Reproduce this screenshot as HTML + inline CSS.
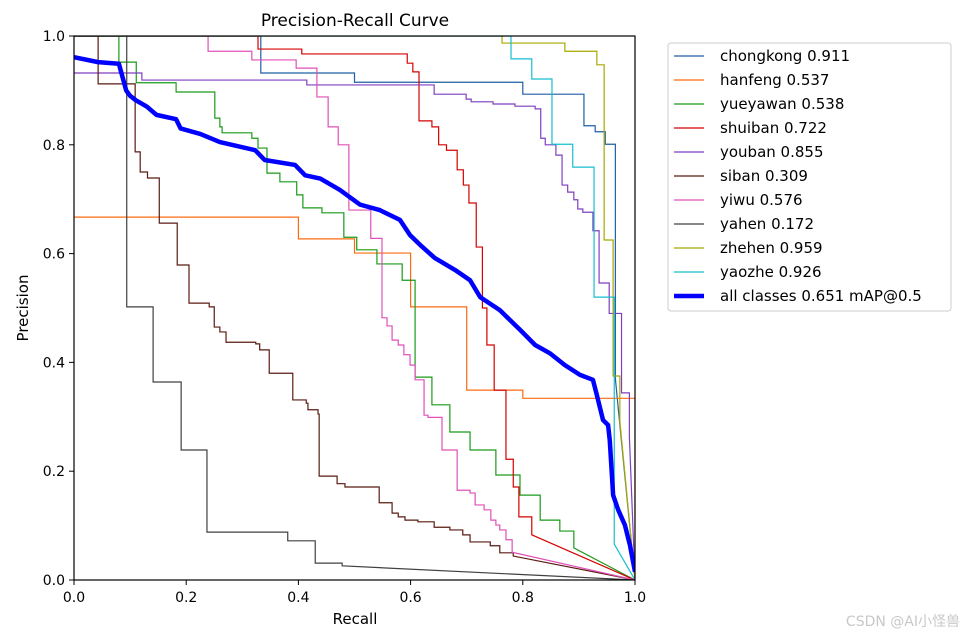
<!DOCTYPE html>
<html><head><meta charset="utf-8"><style>
body{margin:0;background:#fff;width:966px;height:639px;overflow:hidden;font-family:"Liberation Sans","DejaVu Sans",sans-serif}
svg text{font-family:"DejaVu Sans","Liberation Sans",sans-serif}
</style></head><body>
<svg id="chart" width="966" height="639" xmlns="http://www.w3.org/2000/svg">
<defs><clipPath id="pc"><rect x="74" y="36" width="561" height="544"/></clipPath></defs>
<g id="plot" clip-path="url(#pc)"></g>
<rect x="74" y="36" width="561" height="544" fill="none" stroke="#000" stroke-width="1.2"/>
<g id="axes"></g>
<text x="355" y="26" font-size="17" text-anchor="middle">Precision-Recall Curve</text>
<text x="355" y="624" font-size="15" text-anchor="middle">Recall</text>
<text x="28" y="308" font-size="15" text-anchor="middle" transform="rotate(-90 28 308)">Precision</text>
<g id="legend"><rect x="668" y="43" width="283" height="268" rx="3" fill="#fff" stroke="#ccc"/></g>
<text x="960" y="626" font-size="14" fill="#c8c8c8" text-anchor="end" font-family="Liberation Sans, Noto Sans CJK SC, sans-serif">CSDN @AI小怪兽</text>
</svg>
<script>
const xTicks=[0,0.2,0.4,0.6,0.8,1.0];
const yTicks=[0,0.2,0.4,0.6,0.8,1.0];
const names=["chongkong 0.911","hanfeng 0.537","yueyawan 0.538","shuiban 0.722","youban 0.855","siban 0.309","yiwu 0.576","yahen 0.172","zhehen 0.959","yaozhe 0.926","all classes 0.651 mAP@0.5"];
const colors=["#1f5fa4","#ff6a10","#1a9a1a","#d60000","#7f3fbf","#5a1a10","#e050b8","#404040","#a8a800","#17becf","#0000ff"];
const chongkongR=[0,0.333,0.5,0.8,0.909,0.929,0.947,0.965];
const chongkongP=[1,0.932,0.915,0.893,0.835,0.824,0.801,0.37];
const hanfengR=[0,0.4,0.5,0.6,0.7,0.8,1];
const hanfengP=[0.667,0.627,0.601,0.502,0.349,0.334,0];
const yueyawanR=[0,0.08,0.111,0.182,0.251,0.26,0.264,0.317,0.328,0.344,0.367,0.397,0.408,0.442,0.481,0.504,0.54,0.585,0.608,0.638,0.67,0.706,0.752,0.795,0.831,0.866,0.891];
const yueyawanP=[1,0.952,0.914,0.897,0.849,0.833,0.822,0.812,0.794,0.748,0.732,0.708,0.684,0.675,0.63,0.607,0.581,0.551,0.373,0.322,0.272,0.239,0.193,0.156,0.11,0.09,0.059];
const shuibanR=[0,0.328,0.406,0.594,0.604,0.615,0.638,0.65,0.664,0.683,0.694,0.704,0.717,0.728,0.736,0.749,0.77,0.783,0.793,0.816];
const shuibanP=[1,0.976,0.967,0.95,0.934,0.844,0.833,0.8,0.79,0.754,0.726,0.693,0.612,0.5,0.432,0.349,0.222,0.171,0.116,0.083];
const youbanR=[0,0.121,0.415,0.642,0.699,0.708,0.747,0.786,0.822,0.832,0.84,0.859,0.87,0.88,0.891,0.898,0.907,0.925,0.936,0.954,0.976,0.99];
const youbanP=[0.932,0.919,0.91,0.893,0.884,0.879,0.875,0.871,0.866,0.812,0.8,0.781,0.726,0.713,0.699,0.682,0.676,0.642,0.546,0.49,0.344,0.263];
const sibanR=[0,0.043,0.109,0.118,0.131,0.152,0.184,0.205,0.241,0.25,0.26,0.271,0.324,0.331,0.348,0.39,0.414,0.417,0.435,0.437,0.469,0.483,0.544,0.567,0.578,0.59,0.613,0.642,0.67,0.693,0.706,0.742,0.759,0.783];
const sibanP=[1,0.912,0.787,0.75,0.739,0.656,0.579,0.509,0.502,0.465,0.456,0.437,0.434,0.423,0.38,0.331,0.325,0.313,0.305,0.191,0.177,0.171,0.142,0.123,0.116,0.11,0.107,0.097,0.092,0.083,0.07,0.063,0.05,0.044];
const yiwuR=[0,0.239,0.317,0.396,0.433,0.453,0.471,0.49,0.529,0.549,0.558,0.567,0.578,0.588,0.599,0.608,0.624,0.631,0.656,0.683,0.706,0.715,0.731,0.743,0.752,0.759,0.77,0.781];
const yiwuP=[1,0.972,0.956,0.941,0.888,0.833,0.8,0.68,0.628,0.482,0.467,0.441,0.432,0.414,0.395,0.368,0.303,0.299,0.239,0.165,0.16,0.138,0.129,0.11,0.101,0.092,0.074,0.051];
const yahenR=[0,0.094,0.141,0.191,0.237,0.381,0.43,0.478];
const yahenP=[1,0.502,0.364,0.239,0.088,0.072,0.031,0.026];
const zhehenR=[0,0.763,0.875,0.932,0.945,0.961,0.973];
const zhehenP=[1,0.987,0.972,0.947,0.625,0.375,0.292];
const yaozheR=[0,0.779,0.816,0.852,0.889,0.927,0.963];
const yaozheP=[1,0.958,0.921,0.801,0.759,0.52,0.066];
const allR=[0,0.043,0.08,0.093,0.1,0.11,0.13,0.147,0.182,0.19,0.225,0.26,0.323,0.34,0.394,0.412,0.439,0.474,0.51,0.545,0.581,0.599,0.617,0.643,0.679,0.706,0.724,0.759,0.795,0.822,0.848,0.875,0.902,0.925,0.932,0.943,0.952,0.955,0.961,0.97,0.982,0.991,1];
const allP=[0.961,0.952,0.949,0.9,0.89,0.882,0.87,0.855,0.847,0.83,0.82,0.805,0.79,0.772,0.763,0.744,0.738,0.717,0.69,0.68,0.662,0.634,0.616,0.592,0.57,0.551,0.52,0.496,0.46,0.432,0.417,0.395,0.377,0.368,0.34,0.294,0.285,0.257,0.156,0.129,0.101,0.064,0.015];
const seriesR=[chongkongR,hanfengR,yueyawanR,shuibanR,youbanR,sibanR,yiwuR,yahenR,zhehenR,yaozheR];
const seriesP=[chongkongP,hanfengP,yueyawanP,shuibanP,youbanP,sibanP,yiwuP,yahenP,zhehenP,yaozheP];
const seriesKeys=["chongkong","hanfeng","yueyawan","shuiban","youban","siban","yiwu","yahen","zhehen","yaozhe"];
const X=r=>74+r*561, Y=p=>580-p*544;
const NS="http://www.w3.org/2000/svg";
const plot=document.getElementById('plot'),axes=document.getElementById('axes'),legend=document.getElementById('legend');
function mk(t,a,parent){const e=document.createElementNS(NS,t);for(const k in a)e.setAttribute(k,a[k]);parent.appendChild(e);return e;}
xTicks.forEach(v=>{
  const l=mk('line',{x1:X(v),x2:X(v),y1:580,y2:585,stroke:'#000'},axes);
  
  
  const t=mk('text',{x:X(v),y:602,'font-size':14,'text-anchor':'middle'},axes);t.textContent=v.toFixed(1);
  
  
});
yTicks.forEach(v=>{
  const l=mk('line',{x1:69,x2:74,y1:Y(v),y2:Y(v),stroke:'#000'},axes);
  
  
  const t=mk('text',{x:65,y:Y(v)+5,'font-size':14,'text-anchor':'end'},axes);t.textContent=v.toFixed(1);
  
  
});
seriesR.forEach((R,i)=>{
  const P=seriesP[i];let d='M'+X(R[0])+','+Y(P[0]);
  for(let k=1;k<R.length;k++){d+=' L'+X(R[k])+','+Y(P[k-1])+' L'+X(R[k])+','+Y(P[k]);}
  d+=' L'+X(1)+','+Y(0);
  const pa=mk('path',{d:d,fill:'none',stroke:colors[i],'stroke-width':1.2},plot);
  
  
});
let d='M'+X(allR[0])+','+Y(allP[0]);
for(let k=1;k<allR.length;k++)d+=' L'+X(allR[k])+','+Y(allP[k]);
const ap=mk('path',{d:d,fill:'none',stroke:'#0000ff','stroke-width':4.5,'stroke-linejoin':'round'},plot);


names.forEach((n,i)=>{
  const y=56+i*24;
  const l=mk('line',{x1:674,x2:704,y1:y,y2:y,stroke:colors[i],'stroke-width':i==10?4.5:1.3},legend);
  
  
  const t=mk('text',{x:720,y:y+5,'font-size':15},legend);t.textContent=n;
  
  
});
</script>
</body></html>
